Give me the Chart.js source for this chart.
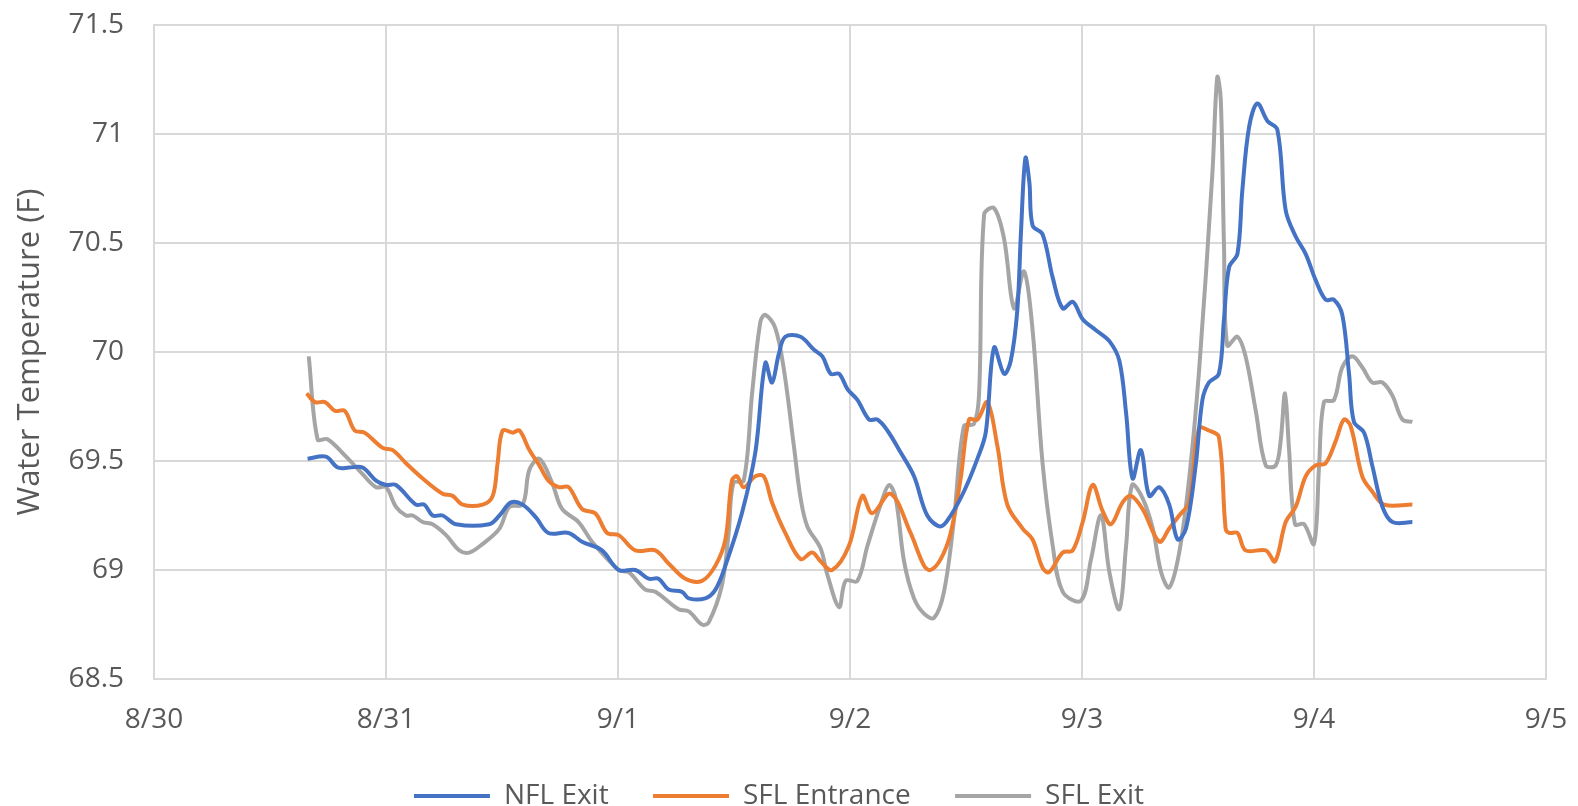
<!DOCTYPE html>
<html>
<head>
<meta charset="utf-8">
<script src="https://cdn.jsdelivr.net/npm/chart.js@4.4.0/dist/chart.umd.min.js"></script>
<style>
  html, body { margin: 0; padding: 0; background: #fff; }
  #wrap { width: 1578px; height: 806px; }
</style>
</head>
<body>
<div id="wrap"><canvas id="mycanvas" width="1578" height="806"></canvas></div>
<script>
// x values are days after 8/30
var dayLabels = ["8/30", "8/31", "9/1", "9/2", "9/3", "9/4", "9/5"];

var nflDays = [0.662,0.741,0.792,0.842,0.899,0.957,1.0,1.043,1.129,1.165,1.201,1.244,1.302,1.445,1.489,1.539,1.589,1.647,
  1.70,1.787,1.845,1.931,2.003,2.075,2.132,2.175,2.218,2.276,2.305,2.376,2.42,2.463,2.534,2.592,2.635,2.664,2.693,2.721,
  2.787,2.845,2.881,2.917,2.953,2.989,3.032,3.082,3.118,3.161,3.218,3.276,3.333,3.391,3.434,3.491,3.549,3.585,3.621,3.664,3.693,3.721,
  3.737,3.756,3.773,3.787,3.830,3.874,3.917,3.960,4.003,4.060,4.118,4.161,4.190,4.218,4.254,4.290,4.333,4.376,4.412,4.448,4.490,4.519,4.547,
  4.590,4.612,4.634,4.670,4.691,4.720,4.756,4.799,4.842,4.878,4.921,4.964,5.007,5.050,5.086,5.122,5.151,5.172,5.216,5.251,5.295,5.338,5.424];
var nflTemps = [69.51,69.52,69.47,69.47,69.47,69.41,69.39,69.39,69.30,69.30,69.25,69.25,69.21,69.21,69.25,69.31,69.30,69.24,
  69.17,69.17,69.13,69.09,69.00,69.00,68.96,68.96,68.91,68.90,68.87,68.87,68.91,69.02,69.26,69.54,69.95,69.86,69.99,70.07,
  70.07,70.01,69.98,69.90,69.90,69.83,69.78,69.69,69.69,69.64,69.54,69.43,69.25,69.20,69.25,69.36,69.51,69.63,70.02,69.90,69.96,70.19,
  70.55,70.89,70.78,70.58,70.54,70.34,70.20,70.23,70.15,70.10,70.05,69.96,69.72,69.42,69.55,69.34,69.38,69.30,69.14,69.19,69.48,69.78,69.86,
  69.90,70.15,70.39,70.45,70.74,71.03,71.14,71.06,71.02,70.65,70.53,70.45,70.33,70.24,70.24,70.17,69.90,69.68,69.63,69.48,69.29,69.22,69.22];

var sfleDays = [0.658,0.694,0.737,0.78,0.822,0.865,0.907,0.986,1.029,1.086,1.158,1.244,1.287,1.33,1.417,1.46,1.481,1.503,1.546,1.575,1.618,
  1.661,1.70,1.744,1.787,1.845,1.902,1.953,2.003,2.075,2.161,2.218,2.29,2.362,2.42,2.463,2.491,2.513,2.542,2.592,2.628,2.664,2.721,
  2.787,2.837,2.873,2.923,2.995,3.053,3.096,3.175,3.261,3.319,3.347,3.391,3.434,3.477,3.513,3.549,3.592,3.635,3.678,
  3.744,3.787,3.830,3.858,3.917,3.960,4.003,4.046,4.089,4.125,4.175,4.211,4.261,4.333,4.376,4.419,4.462,4.504,
  4.547,4.590,4.619,4.634,4.670,4.705,4.792,4.832,4.878,4.921,4.964,5.007,5.050,5.093,5.129,5.158,5.208,5.251,5.302,5.424];
var sfleTemps = [69.81,69.77,69.77,69.73,69.73,69.64,69.63,69.56,69.55,69.49,69.42,69.35,69.34,69.30,69.30,69.34,69.49,69.64,69.63,69.64,69.55,
  69.48,69.41,69.38,69.38,69.28,69.26,69.17,69.16,69.09,69.09,69.03,68.96,68.95,69.02,69.14,69.41,69.43,69.38,69.43,69.43,69.31,69.17,
  69.05,69.08,69.04,69.00,69.11,69.34,69.26,69.35,69.17,69.02,69.00,69.05,69.17,69.42,69.69,69.69,69.77,69.57,69.30,
  69.19,69.14,69.01,68.99,69.08,69.09,69.22,69.39,69.27,69.21,69.31,69.34,69.28,69.13,69.19,69.25,69.31,69.65,
  69.64,69.61,69.19,69.17,69.17,69.09,69.09,69.04,69.22,69.29,69.43,69.48,69.49,69.59,69.69,69.66,69.43,69.36,69.30,69.30];

var sflxDays = [0.667,0.705,0.748,0.828,0.899,0.957,1.0,1.043,1.086,1.115,1.158,1.201,1.259,1.316,1.359,1.417,1.489,1.532,1.589,1.618,1.661,
  1.716,1.759,1.830,1.888,2.003,2.046,2.118,2.161,2.261,2.305,2.362,2.391,2.448,2.477,2.498,2.542,2.578,2.614,2.635,2.678,
  2.715,2.758,2.787,2.816,2.873,2.902,2.953,2.981,3.032,3.075,3.132,3.168,3.197,3.233,3.276,3.319,3.362,3.405,3.448,3.491,3.534,3.556,3.578,3.621,3.664,3.707,3.750,
  3.787,3.830,3.874,3.917,3.996,4.039,4.082,4.118,4.161,4.190,4.216,4.261,4.305,4.341,4.376,4.419,4.462,4.505,
  4.562,4.583,4.598,4.612,4.626,4.670,4.705,4.749,4.792,4.835,4.856,4.875,4.892,4.918,4.957,5.0,5.022,5.043,5.086,5.122,5.165,5.208,5.251,5.295,5.338,5.381,5.424];
var sflxTemps = [69.98,69.60,69.60,69.52,69.44,69.38,69.38,69.29,69.25,69.25,69.22,69.21,69.16,69.09,69.08,69.12,69.19,69.29,69.30,69.46,69.51,
  69.40,69.28,69.22,69.13,69.00,68.99,68.91,68.90,68.82,68.81,68.75,68.76,68.93,69.17,69.40,69.41,69.81,70.14,70.17,70.11,
  69.92,69.57,69.33,69.20,69.10,68.98,68.83,68.95,68.95,69.11,69.30,69.39,69.33,69.04,68.87,68.80,68.78,68.90,69.23,69.66,69.67,69.80,70.63,70.66,70.52,70.20,70.37,
  70.10,69.49,69.11,68.90,68.86,69.05,69.25,68.99,68.82,69.11,69.39,69.33,69.19,68.99,68.92,69.08,69.42,69.92,
  70.82,71.26,71.16,70.49,70.03,70.07,69.98,69.73,69.48,69.48,69.59,69.81,69.56,69.21,69.21,69.12,69.48,69.77,69.78,69.93,69.98,69.93,69.86,69.86,69.80,69.69,69.68];

function toPoints(xs, ys) {
	var pts = [];
	for (var i in xs) {
		pts.push({x: xs[i], y: ys[i]});
	}
	return pts;
}

var textColor = "#595959";
var gridColor = "#D9D9D9";
var font = "'Open Sans', 'Noto Sans', sans-serif";

function lineSet(label, xs, ys, color) {
	return {
		label: label,
		data: toPoints(xs, ys),
		borderColor: color,
		backgroundColor: color,
		borderWidth: 4,
		pointRadius: 0,
		tension: 0.35,
		fill: false
	};
}

var chartdata = {
	datasets: [
		lineSet("NFL Exit", nflDays, nflTemps, "#4472C4"),
		lineSet("SFL Entrance", sfleDays, sfleTemps, "#ED7D31"),
		lineSet("SFL Exit", sflxDays, sflxTemps, "#A5A5A5")
	]
};

var ctx = document.getElementById("mycanvas");

var LineGraph = new Chart(ctx, {
	type: 'line',
	data: chartdata,
	options: {
		responsive: false,
		animation: false,
		layout: {padding: {left: 12, right: 32, top: 25, bottom: -14}},
		plugins: {
			tooltip: {enabled: false},
			legend: {
				position: 'bottom',
				labels: {
					usePointStyle: true,
					pointStyle: 'line',
					pointStyleWidth: 76,
					boxHeight: 4,
					padding: 8,
					color: textColor,
					font: {family: font, size: 28},
					generateLabels: function(chart) {
						var items = Chart.defaults.plugins.legend.labels.generateLabels(chart);
						// extra space after each entry, like the gap in the original legend
						for (var i = 0; i < items.length - 1; i++) {
							items[i].text = items[i].text + "     ";
						}
						return items;
					}
				}
			}
		},
		scales: {
			x: {
				type: 'linear',
				min: 0,
				max: 6,
				ticks: {
					stepSize: 1,
					padding: 24,
					color: textColor,
					font: {family: font, size: 28},
					maxRotation: 0,
					callback: function(value) { return dayLabels[value]; }
				},
				grid: {color: gridColor, lineWidth: 2, drawTicks: false},
				border: {color: gridColor, width: 2},
				afterFit: function(scale) {
					scale.height = 95;
					scale.paddingLeft = 0;
					scale.paddingRight = 0;
				}
			},
			y: {
				min: 68.5,
				max: 71.5,
				ticks: {
					stepSize: 0.5,
					padding: 30,
					color: textColor,
					font: {family: font, size: 28},
					callback: function(value) { return String(value); }
				},
				grid: {color: gridColor, lineWidth: 2, drawTicks: false},
				border: {color: gridColor, width: 2},
				title: {
					display: true,
					text: "Water Temperature (F)",
					color: textColor,
					font: {family: font, size: 31},
					padding: {top: 0, bottom: 0}
				},
				afterFit: function(scale) {
					scale.width = 142;
					scale.paddingTop = 0;
					scale.paddingBottom = 0;
				}
			}
		}
	}
});
</script>
</body>
</html>
